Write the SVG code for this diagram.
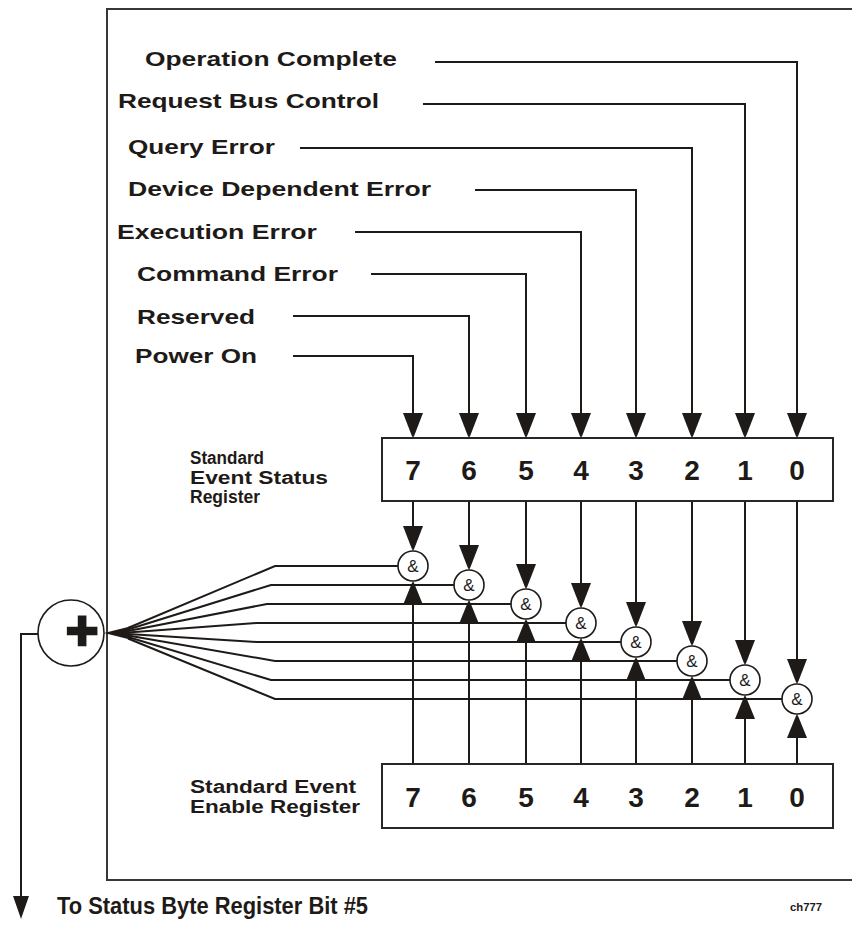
<svg xmlns="http://www.w3.org/2000/svg" xmlns:xlink="http://www.w3.org/1999/xlink" width="852" height="936" viewBox="0 0 852 936">
<style>
  .ln{fill:none;stroke:#1e1a18;stroke-width:2}
  .fr{fill:none;stroke:#3a3633;stroke-width:2}
  .box{fill:#fff;stroke:#2a2624;stroke-width:2}
  .gate{fill:#fff;stroke:#1e1a18;stroke-width:1.6}
  .lbl{font-family:"Liberation Sans",Arial,sans-serif;font-weight:bold;font-size:21px;fill:#1e1a18}
  .reg{font-family:"Liberation Sans",Arial,sans-serif;font-weight:bold;font-size:18px;fill:#1e1a18}
  .dig{font-family:"Liberation Sans",Arial,sans-serif;font-weight:bold;font-size:28px;fill:#1e1a18;text-anchor:middle}
  .amp{font-family:"Liberation Sans",Arial,sans-serif;font-size:17px;fill:#1e1a18;text-anchor:middle}
  .ah{fill:#1e1a18}
</style>
<defs>
  <path id="adn" class="ah" d="M-10,-25 L10,-25 L1.5,-3 L0,0 L-1.5,-3 Z"/>
  <path id="aup" class="ah" d="M-10,24 L10,24 L1.5,3 L0,0 L-1.5,3 Z"/>
</defs>
<rect width="852" height="936" fill="#fff"/>

<g id="frame">
  <path class="fr" d="M852,9 H107 V880 H852"/>
</g>

<g id="connectors">
  <path class="ln" d="M435,62 H797 V415"/>
  <path class="ln" d="M423,104 H745 V415"/>
  <path class="ln" d="M300,148 H692 V415"/>
  <path class="ln" d="M475,190 H636 V415"/>
  <path class="ln" d="M355,232 H581 V415"/>
  <path class="ln" d="M371,274 H526 V415"/>
  <path class="ln" d="M293,316 H469 V415"/>
  <path class="ln" d="M293,356 H413 V415"/>
  <use href="#adn" x="413" y="438"/>
  <use href="#adn" x="469" y="438"/>
  <use href="#adn" x="526" y="438"/>
  <use href="#adn" x="581" y="438"/>
  <use href="#adn" x="636" y="438"/>
  <use href="#adn" x="692" y="438"/>
  <use href="#adn" x="745" y="438"/>
  <use href="#adn" x="797" y="438"/>

  <path class="ln" d="M413,501 V545 M469,501 V565 M526,501 V584 M581,501 V603 M636,501 V622 M692,501 V641 M745,501 V660 M797,501 V679"/>
  <use href="#adn" x="413" y="551"/>
  <use href="#adn" x="469" y="570"/>
  <use href="#adn" x="526" y="589"/>
  <use href="#adn" x="581" y="608"/>
  <use href="#adn" x="636" y="627"/>
  <use href="#adn" x="692" y="646"/>
  <use href="#adn" x="745" y="665"/>
  <use href="#adn" x="797" y="684"/>

  <path class="ln" d="M413,764 V600 M469,764 V619 M526,764 V638 M581,764 V657 M636,764 V676 M692,764 V695 M745,764 V714 M797,764 V733"/>
  <use href="#aup" x="413" y="581"/>
  <use href="#aup" x="469" y="600"/>
  <use href="#aup" x="526" y="619"/>
  <use href="#aup" x="581" y="638"/>
  <use href="#aup" x="636" y="657"/>
  <use href="#aup" x="692" y="676"/>
  <use href="#aup" x="745" y="695"/>
  <use href="#aup" x="797" y="714"/>

  <path class="ln" d="M398,566 H275 L128,628"/>
  <path class="ln" d="M454,585 H271 L128,629.5"/>
  <path class="ln" d="M511,604 H267 L128,631"/>
  <path class="ln" d="M566,623 H257 L128,632.5"/>
  <path class="ln" d="M621,642 H257 L128,634"/>
  <path class="ln" d="M677,661 H275 L128,635.5"/>
  <path class="ln" d="M730,680 H271 L128,637"/>
  <path class="ln" d="M782,699 H275 L128,638.5"/>
  <path class="ah" d="M104,633 L132,626 L128,633 L132,640 Z"/>

  <path class="ln" d="M38,634 H21 V898"/>
  <path class="ah" d="M13,896 L29,896 L22,916 L21,919 L20,916 Z"/>
</g>

<g id="labels">
  <text class="lbl" x="145" y="66" textLength="252" lengthAdjust="spacingAndGlyphs">Operation Complete</text>
  <text class="lbl" x="118" y="108" textLength="261" lengthAdjust="spacingAndGlyphs">Request Bus Control</text>
  <text class="lbl" x="128" y="154" textLength="147" lengthAdjust="spacingAndGlyphs">Query Error</text>
  <text class="lbl" x="128" y="196" textLength="303" lengthAdjust="spacingAndGlyphs">Device Dependent Error</text>
  <text class="lbl" x="117" y="239" textLength="200" lengthAdjust="spacingAndGlyphs">Execution Error</text>
  <text class="lbl" x="137" y="281" textLength="201" lengthAdjust="spacingAndGlyphs">Command Error</text>
  <text class="lbl" x="137" y="324" textLength="118" lengthAdjust="spacingAndGlyphs">Reserved</text>
  <text class="lbl" x="135" y="363" textLength="122" lengthAdjust="spacingAndGlyphs">Power On</text>
</g>

<g id="status-register">
  <rect class="box" x="382" y="438" width="451" height="63"/>
  <text class="dig" x="413" y="480">7</text>
  <text class="dig" x="469" y="480">6</text>
  <text class="dig" x="526" y="480">5</text>
  <text class="dig" x="581" y="480">4</text>
  <text class="dig" x="636" y="480">3</text>
  <text class="dig" x="692" y="480">2</text>
  <text class="dig" x="745" y="480">1</text>
  <text class="dig" x="797" y="480">0</text>
  <text class="reg" x="190" y="464" textLength="74" lengthAdjust="spacingAndGlyphs">Standard</text>
  <text class="reg" x="190" y="484" textLength="138" lengthAdjust="spacingAndGlyphs">Event Status</text>
  <text class="reg" x="190" y="503" textLength="70" lengthAdjust="spacingAndGlyphs">Register</text>
</g>

<g id="enable-register">
  <rect class="box" x="382" y="764" width="451" height="64"/>
  <text class="dig" x="413" y="807">7</text>
  <text class="dig" x="469" y="807">6</text>
  <text class="dig" x="526" y="807">5</text>
  <text class="dig" x="581" y="807">4</text>
  <text class="dig" x="636" y="807">3</text>
  <text class="dig" x="692" y="807">2</text>
  <text class="dig" x="745" y="807">1</text>
  <text class="dig" x="797" y="807">0</text>
  <text class="reg" x="190" y="793" textLength="166" lengthAdjust="spacingAndGlyphs">Standard Event</text>
  <text class="reg" x="190" y="813" textLength="170" lengthAdjust="spacingAndGlyphs">Enable Register</text>
</g>

<g id="gates">
  <g id="gate7"><circle class="gate" cx="413" cy="566" r="15"/><text class="amp" x="413" y="572">&amp;</text></g>
  <g id="gate6"><circle class="gate" cx="469" cy="585" r="15"/><text class="amp" x="469" y="591">&amp;</text></g>
  <g id="gate5"><circle class="gate" cx="526" cy="604" r="15"/><text class="amp" x="526" y="610">&amp;</text></g>
  <g id="gate4"><circle class="gate" cx="581" cy="623" r="15"/><text class="amp" x="581" y="629">&amp;</text></g>
  <g id="gate3"><circle class="gate" cx="636" cy="642" r="15"/><text class="amp" x="636" y="648">&amp;</text></g>
  <g id="gate2"><circle class="gate" cx="692" cy="661" r="15"/><text class="amp" x="692" y="667">&amp;</text></g>
  <g id="gate1"><circle class="gate" cx="745" cy="680" r="15"/><text class="amp" x="745" y="686">&amp;</text></g>
  <g id="gate0"><circle class="gate" cx="797" cy="699" r="15"/><text class="amp" x="797" y="705">&amp;</text></g>
</g>

<g id="or-gate">
  <circle class="gate" cx="71" cy="633" r="33"/>
  <text x="82" y="649" text-anchor="middle" font-family="Liberation Sans, Arial, sans-serif" font-weight="bold" font-size="56" fill="#1e1a18" stroke="#1e1a18" stroke-width="2.5">+</text>
</g>

<g id="footer">
  <text class="lbl" x="57" y="914" textLength="311" lengthAdjust="spacingAndGlyphs" style="font-size:23px">To Status Byte Register Bit #5</text>
  <text x="790" y="911" font-family="Liberation Sans, Arial, sans-serif" font-weight="bold" font-size="10" fill="#1e1a18" textLength="32" lengthAdjust="spacingAndGlyphs">ch777</text>
</g>
</svg>
